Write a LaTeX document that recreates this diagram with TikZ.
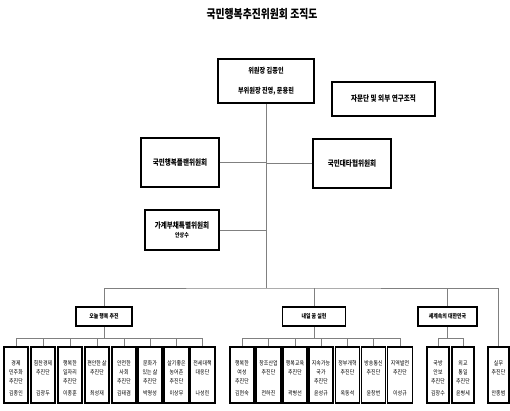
\documentclass[tikz,border=0pt]{standalone}
\usepackage{fontspec}
\newfontfamily\kr{Noto Sans CJK KR}[FakeStretch=0.82]
\begin{document}
\begin{tikzpicture}[x=1pt,y=-1pt,
  box/.style={draw=black,line width=1.6pt,fill=white,inner sep=0pt,align=center},
  sbox/.style={box,minimum width=24pt,minimum height=56pt},
  mbox/.style={box,minimum width=58pt,minimum height=19pt,font=\kr\bfseries\fontsize{6}{8}\selectfont},
  stext/.style={inner sep=0pt,align=center,font=\kr\fontsize{6}{9}\selectfont},
  conn/.style={draw=black!50,line width=0.9pt}]
\useasboundingbox (0,0) rectangle (510,410);
\node[font=\kr\bfseries\fontsize{12}{14}\selectfont] (title) at (262,14) {국민행복추진위원회 조직도};
% top level
\node[box,minimum width=96pt,minimum height=44pt,font=\kr\bfseries\fontsize{7.5}{20}\selectfont] (chair) at (266,81) {위원장 김종인\\부위원장 진영, 문용린};
\node[box,minimum width=103pt,minimum height=34pt,font=\kr\bfseries\fontsize{8}{10}\selectfont] (adv) at (383.5,99) {자문단 및 외부 연구조직};
\node[box,minimum width=78pt,minimum height=49pt,font=\kr\bfseries\fontsize{8}{10}\selectfont] (plan) at (180,162.5) {국민행복플랜위원회};
\node[box,minimum width=78pt,minimum height=49pt,font=\kr\bfseries\fontsize{8}{10}\selectfont] (tahyup) at (352,163.5) {국민대타협위원회};
\node[box,minimum width=74pt,minimum height=40pt,font=\kr\bfseries\fontsize{8}{10}\selectfont] (debt) at (182,230) {가계부채특별위원회\\[-1pt]{\fontsize{6}{7}\selectfont 안상수}};
\coordinate (bus) at (266,288);
\draw[conn] (chair.south) -- (bus);
\draw[conn] (plan.east) -- (plan.east -| chair.south);
\draw[conn] (tahyup.west) -- (tahyup.west -| chair.south);
\draw[conn] (debt.east) -- (debt.east -| chair.south);
% middle level
\node[mbox,minimum width=56pt] (today) at (104,316.5) {오늘 행복 추진};
\node[mbox,minimum width=63pt] (naeil) at (314,316.5) {내일 꿈 실현};
\node[mbox,minimum width=59pt] (segye) at (447.5,316.5) {세계속의 대한민국};
% sub units
\newcommand\subunit[5]{%
  \node[sbox,minimum width=#3pt] (#1) at (#2,375) {};
  \node[stext,anchor=north] (#1t) at (#2,360) {#4};
  \node[stext] (#1n) at (#2,393) {#5};}
\subunit{ta}{16}{24}{경제\\민주화\\추진단}{김종인}
\subunit{tb}{43}{24}{힘찬경제\\추진단}{김광두}
\subunit{tc}{70}{24}{행복한\\일자리\\추진단}{이종훈}
\subunit{td}{97}{24}{편안한 삶\\추진단}{최성재}
\subunit{te}{124}{24}{안전한\\사회\\추진단}{김태겸}
\subunit{tf}{150}{24}{문화가\\있는 삶\\추진단}{박명성}
\subunit{tg}{176.5}{25}{살기좋은\\농어촌\\추진단}{이상무}
\subunit{th}{202.5}{25}{전세대책\\대응단}{나성린}
\subunit{na}{242}{24}{행복한\\여성\\추진단}{김현숙}
\subunit{nb}{268.5}{25}{창조산업\\추진단}{전하진}
\subunit{nc}{295}{24}{행복교육\\추진단}{곽병선}
\subunit{nd}{321}{24}{지속가능\\국가\\추진단}{윤성규}
\subunit{ne}{347.5}{24}{정부개혁\\추진단}{옥동석}
\subunit{nf}{373.5}{24}{방송통신\\추진단}{윤창번}
\subunit{ng}{400}{25}{지역발전\\추진단}{이성규}
\subunit{sa}{438}{22}{국방\\안보\\추진단}{김장수}
\subunit{sb}{463}{22}{외교\\통일\\추진단}{윤병세}
\subunit{si}{498.5}{21}{실무\\추진단}{안종범}
% bus connections
\draw[conn] (today.north) |- (bus) -| (si.north);
\draw[conn] (naeil.north) -- (naeil.north |- bus);
\draw[conn] (segye.north) -- (segye.north |- bus);
\coordinate (sub) at (0,338);
\draw[conn] (ta.north) |- (th.north |- sub) -- (th.north);
\foreach \n in {tb,tc,td,te,tf,tg} \draw[conn] (\n.north) -- (\n.north |- sub);
\draw[conn] (today.south) -- (today.south |- sub);
\draw[conn] (na.north) |- (ng.north |- sub) -- (ng.north);
\foreach \n in {nb,nc,nd,ne,nf} \draw[conn] (\n.north) -- (\n.north |- sub);
\draw[conn] (naeil.south) -- (naeil.south |- sub);
\draw[conn] (sa.north) |- (sb.north |- sub) -- (sb.north);
\draw[conn] (segye.south) -- (segye.south |- sub);
\end{tikzpicture}
\end{document}
